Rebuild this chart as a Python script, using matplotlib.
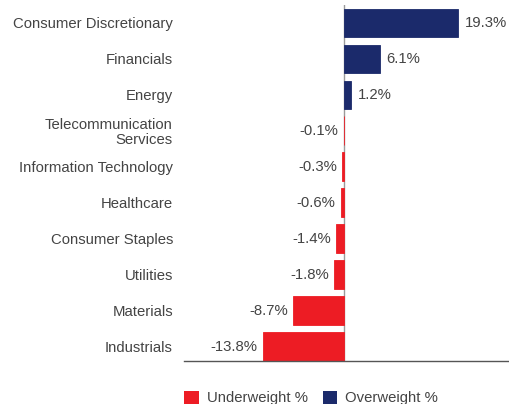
import matplotlib
matplotlib.use("Agg")
import matplotlib.pyplot as plt
from matplotlib.patches import Patch

categories = ["Consumer Discretionary", "Financials", "Energy",
              "Telecommunication\nServices", "Information Technology",
              "Healthcare", "Consumer Staples", "Utilities", "Materials",
              "Industrials"]
values = [19.3, 6.1, 1.2, -0.1, -0.3, -0.6, -1.4, -1.8, -8.7, -13.8]
legend_labels = ["Underweight %", "Overweight %"]

RED = "#ED1C24"
NAVY = "#1B2A6B"
TXT = "#444444"
FS = 10.7

plt.rcParams['font.family'] = ['Liberation Sans', 'DejaVu Sans']

fig = plt.figure(figsize=(5.09, 4.04), dpi=100)
ax = fig.add_axes([184/509, (404-361)/404, 1-184/509, (361-5)/404])

ypos = list(range(len(categories)))
colors = [NAVY if v > 0 else RED for v in values]
ax.barh(ypos, values, height=0.8, color=colors, edgecolor=colors, linewidth=0.6, zorder=2)
ax.axvline(0, color="#9a9a9a", lw=1, zorder=1)

for y, v in zip(ypos, values):
    if v > 0:
        ax.annotate(f"{v:.1f}%", (v, y), xytext=(4.5, 0), textcoords="offset points",
                    ha="left", va="center", fontsize=FS, color=TXT)
    else:
        ax.annotate(f"{v:.1f}%", (v, y), xytext=(-3.5, 0), textcoords="offset points",
                    ha="right", va="center", fontsize=FS, color=TXT)

ax.set_yticks(ypos)
ax.set_yticklabels(categories, fontsize=FS, color=TXT, linespacing=1.05)
ax.tick_params(axis="y", length=0, pad=8)
ax.set_xticks([])
ax.set_xlim(-27.1, 27.9)
ax.set_ylim(9.4, -0.5)
for s in ["top", "right", "left"]:
    ax.spines[s].set_visible(False)
ax.spines["bottom"].set_color("#555555")
ax.spines["bottom"].set_linewidth(1)

handles = [Patch(facecolor=RED, edgecolor="none"), Patch(facecolor=NAVY, edgecolor="none")]
fig.legend(handles, legend_labels, loc="center left", bbox_to_anchor=(171/509, (404-398)/404),
           ncol=2, frameon=False, fontsize=FS, handlelength=1.0, handleheight=1.0,
           handletextpad=0.5, columnspacing=1.0, labelcolor=TXT)

fig.savefig("out.png", dpi=100)
